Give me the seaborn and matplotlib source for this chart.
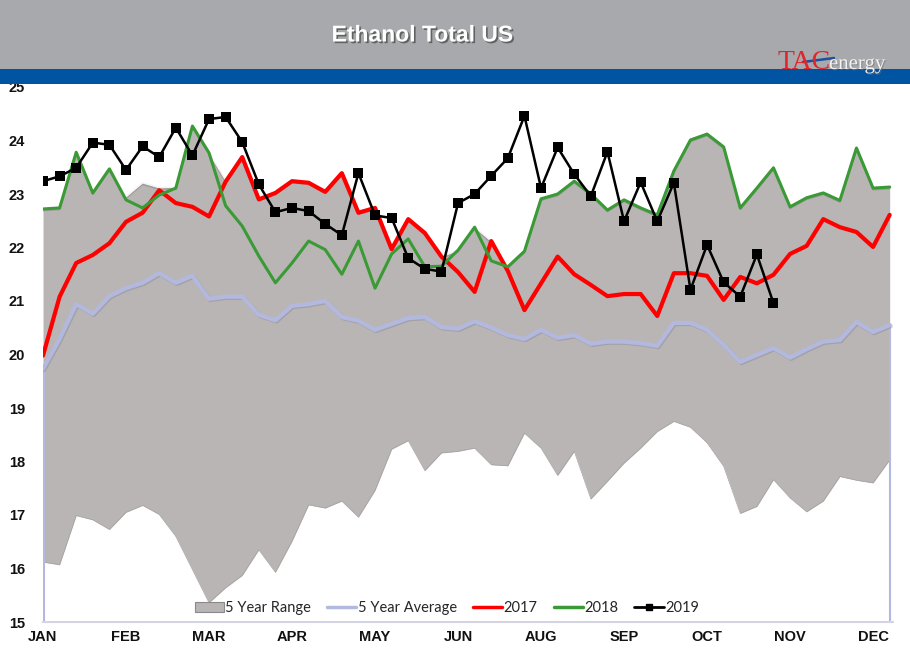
import numpy as np
import pandas as pd
import matplotlib
matplotlib.use("Agg")
import matplotlib.pyplot as plt
import matplotlib.patheffects as pe
from matplotlib.patches import Rectangle, Patch
from matplotlib.lines import Line2D
import seaborn as sns

# weekly series, 52 weeks
weeks = np.arange(52)
tick_weeks = [0, 5, 10, 15, 20, 25, 30, 35, 40, 45, 50]
tick_labels = ["JAN", "FEB", "MAR", "APR", "MAY", "JUN", "AUG", "SEP", "OCT", "NOV", "DEC"]

range_high = [22.72, 22.74, 23.78, 23.02, 23.47, 22.95, 23.21, 23.12, 23.13, 24.27,
              23.77, 23.26, 23.69, 22.90, 23.02, 23.24, 23.21, 23.04, 23.39, 22.65,
              22.74, 21.97, 22.53, 22.27, 21.83, 21.95, 22.38, 22.12, 21.64, 21.93,
              22.91, 23.00, 23.24, 23.00, 22.70, 22.89, 22.74, 22.61, 23.43, 24.01,
              24.12, 23.88, 22.74, 23.11, 23.49, 22.76, 22.93, 23.02, 22.88, 23.86,
              23.11, 23.13]
range_low = [16.12, 16.07, 16.99, 16.91, 16.73, 17.05, 17.18, 17.01, 16.60, 15.98,
             15.36, 15.64, 15.87, 16.35, 15.93, 16.51, 17.19, 17.13, 17.26, 16.96,
             17.46, 18.23, 18.39, 17.83, 18.16, 18.19, 18.25, 17.94, 17.92, 18.53,
             18.25, 17.74, 18.19, 17.30, 17.63, 17.97, 18.25, 18.56, 18.75, 18.64,
             18.35, 17.91, 17.03, 17.16, 17.66, 17.32, 17.06, 17.26, 17.72, 17.65,
             17.60, 18.03]
avg_5yr = [19.73, 20.29, 20.94, 20.76, 21.09, 21.24, 21.34, 21.52, 21.34, 21.47,
           21.04, 21.08, 21.08, 20.74, 20.64, 20.91, 20.94, 21.00, 20.70, 20.63,
           20.46, 20.57, 20.68, 20.70, 20.51, 20.48, 20.62, 20.50, 20.36, 20.29,
           20.46, 20.31, 20.36, 20.20, 20.24, 20.24, 20.21, 20.16, 20.59, 20.59,
           20.46, 20.18, 19.86, 19.99, 20.12, 19.94, 20.10, 20.24, 20.27, 20.61,
           20.42, 20.55]
y2017 = [19.98, 21.08, 21.71, 21.86, 22.08, 22.48, 22.65, 23.07, 22.83, 22.76,
         22.58, 23.23, 23.69, 22.90, 23.02, 23.24, 23.21, 23.04, 23.39, 22.65,
         22.74, 21.97, 22.53, 22.27, 21.83, 21.54, 21.17, 22.12, 21.56, 20.83,
         21.33, 21.83, 21.50, 21.30, 21.09, 21.13, 21.13, 20.72, 21.52, 21.52,
         21.47, 21.02, 21.45, 21.33, 21.49, 21.88, 22.03, 22.53, 22.38, 22.29,
         22.01, 22.61]
y2018 = [22.72, 22.74, 23.78, 23.02, 23.47, 22.89, 22.74, 22.98, 23.11, 24.27,
         23.77, 22.78, 22.40, 21.84, 21.34, 21.71, 22.12, 21.96, 21.50, 22.12,
         21.24, 21.88, 22.16, 21.64, 21.65, 21.95, 22.38, 21.75, 21.64, 21.93,
         22.91, 23.00, 23.24, 23.00, 22.70, 22.89, 22.74, 22.61, 23.43, 24.01,
         24.12, 23.88, 22.74, 23.11, 23.49, 22.76, 22.93, 23.02, 22.88, 23.86,
         23.11, 23.13]
y2019 = [23.24, 23.33, 23.49, 23.96, 23.92, 23.45, 23.89, 23.69, 24.24, 23.72,
         24.40, 24.44, 23.97, 23.18, 22.66, 22.74, 22.68, 22.44, 22.23, 23.39,
         22.60, 22.55, 21.80, 21.60, 21.55, 22.83, 23.00, 23.34, 23.67, 24.46,
         23.11, 23.87, 23.37, 22.96, 23.79, 22.49, 23.22, 22.49, 23.21, 21.21,
         22.05, 21.35, 21.08, 21.87, 20.96]

RANGE_GREY = "#b9b5b4"
AVG_COLOR = "#b3b8de"
RED = "#ff0000"
GREEN = "#3a9a35"

sns.set_theme(style="white")
plt.rcParams["font.family"] = ["Liberation Sans", "DejaVu Sans"]

df = pd.DataFrame({
    "week": weeks,
    "avg": avg_5yr,
    "2017": y2017,
    "2018": y2018,
    "2019": y2019 + [np.nan] * (len(weeks) - len(y2019)),
})

fig = plt.figure(figsize=(9.10, 6.61), dpi=100)
ax = fig.add_axes([43 / 910, 39 / 661, 850 / 910, 535 / 661])

# header bands
fig.patches.append(Rectangle((0, 592 / 661), 1, 69 / 661, transform=fig.transFigure,
                             facecolor="#a8a9ac", edgecolor="none", zorder=0))
fig.patches.append(Rectangle((0, 577 / 661), 1, 15 / 661, transform=fig.transFigure,
                             facecolor="#0054a2", edgecolor="none", zorder=0))
fig.text(422 / 910, 1 - 35 / 661, "Ethanol Total US", ha="center", va="center",
         color="white", fontsize=16.5, fontweight="bold",
         path_effects=[pe.withSimplePatchShadow(offset=(1.2, -1.2), shadow_rgbFace="#505050", alpha=0.8)])
fig.text(831 / 910, 1 - 69 / 661, "TAC", ha="right", va="baseline", color="#e0262c",
         fontsize=20, family="Liberation Serif")
fig.text(829 / 910, 1 - 69 / 661, "energy", ha="left", va="baseline", color="#f2f2f2",
         fontsize=15, family="Liberation Serif",
         path_effects=[pe.withSimplePatchShadow(offset=(0.8, -0.8), shadow_rgbFace="#707070", alpha=0.6)])
fig.add_artist(Line2D([803 / 910, 834 / 910], [1 - 62 / 661, 1 - 58 / 661],
                      transform=fig.transFigure, color="#1d4f9c", linewidth=1.8))

# 5 year range band
ax.fill_between(weeks, range_low, range_high, color=RANGE_GREY, linewidth=0, zorder=1)
ax.plot(weeks, range_high, color="#f4f2f2", linewidth=1.0, zorder=1.5,
        path_effects=[pe.SimpleLineShadow(offset=(0, -1.2), shadow_color="#8c8888", alpha=0.6), pe.Normal()])
ax.plot(weeks, range_low, color="#a6a2a2", linewidth=0.5, zorder=1.5)

# 5 year average (with its vertical edges down to the axis)
ax.vlines([weeks[0] + 0.06, weeks[-1]], 15, [avg_5yr[0], avg_5yr[-1]], color=AVG_COLOR, linewidth=1.5, zorder=2)
sns.lineplot(data=df, x="week", y="avg", ax=ax, color=AVG_COLOR, linewidth=3.0, zorder=3,
             path_effects=[pe.SimpleLineShadow(offset=(0.8, -0.8), shadow_color="#7a7a90", alpha=0.35), pe.Normal()])
sns.lineplot(data=df, x="week", y="2017", ax=ax, color=RED, linewidth=3.0, zorder=4)
sns.lineplot(data=df, x="week", y="2018", ax=ax, color=GREEN, linewidth=2.2, zorder=5)
sns.lineplot(data=df, x="week", y="2019", ax=ax, color="black", linewidth=1.8,
             marker="s", markersize=7, markeredgewidth=0, zorder=6)

ax.set_xlim(0, 51.2)
ax.set_ylim(15, 25)
ax.set_yticks(range(15, 26))
ax.set_xticks(tick_weeks)
ax.set_xticklabels(tick_labels)
ax.set_xlabel("")
ax.set_ylabel("")
ax.tick_params(axis="both", length=0, labelsize=10.5, labelcolor="#111111")
ax.tick_params(axis="y", pad=13)
ax.tick_params(axis="x", pad=6)
for lbl in ax.get_xticklabels() + ax.get_yticklabels():
    lbl.set_fontweight("bold")

for side in ["left", "top", "right"]:
    ax.spines[side].set_visible(False)
ax.spines["bottom"].set_color("#d4d4e2")
ax.spines["bottom"].set_linewidth(1.5)
ax.grid(False)

handles = [
    Patch(facecolor=RANGE_GREY, edgecolor="#8a8a8a", linewidth=0.8),
    Line2D([], [], color=AVG_COLOR, linewidth=2.5),
    Line2D([], [], color=RED, linewidth=2.5),
    Line2D([], [], color=GREEN, linewidth=2.5),
    Line2D([], [], color="black", linewidth=2.0, marker="s", markersize=5),
]
labels = ["5 Year Range", "5 Year Average", "2017", "2018", "2019"]
ax.legend(handles, labels, loc="lower center", bbox_to_anchor=(0.475, -0.012), ncol=5,
          frameon=False, handlelength=2.0, handletextpad=0.1, columnspacing=1.1,
          prop={"family": ["Lato", "DejaVu Sans"], "size": 10.5})

fig.savefig("out.png", dpi=100)
plt.close(fig)
